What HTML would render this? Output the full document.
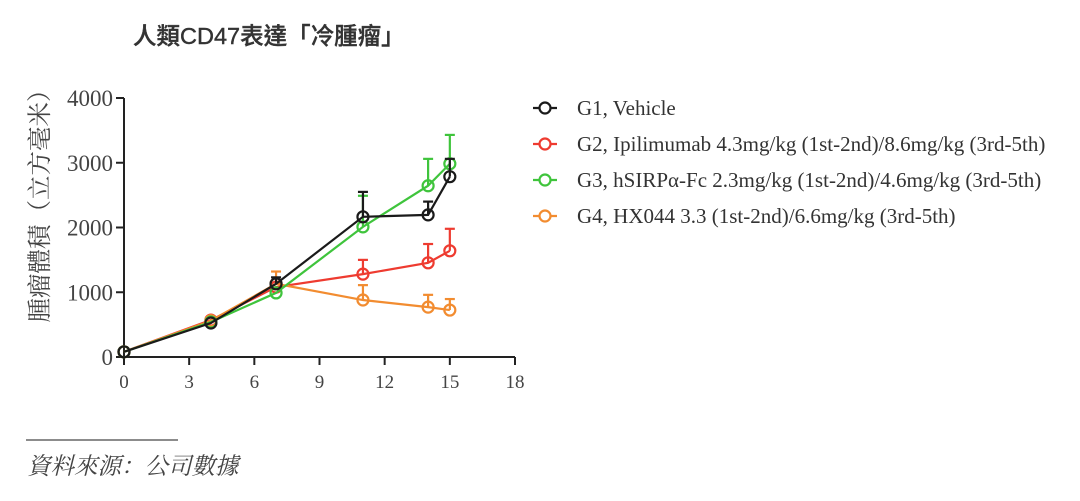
<!DOCTYPE html>
<html><head><meta charset="utf-8"><style>
html,body{margin:0;padding:0;background:#fff;width:1080px;height:501px;overflow:hidden}
svg{display:block}
</style></head><body>
<svg id="chart" width="1080" height="501" xmlns="http://www.w3.org/2000/svg">
<text x="133" y="44" font-family="'Liberation Sans','Noto Sans CJK TC',sans-serif" font-size="23.5" font-weight="500" fill="#333" stroke="#333" stroke-width="0.4">人類CD47表達「冷腫瘤」</text>
<text transform="translate(48,200) rotate(-90)" text-anchor="middle" font-family="'Liberation Serif','Noto Serif CJK SC',serif" font-size="24.5" fill="#444">腫瘤體積（立方毫米）</text>
<g id="axes"></g>
<g id="series"></g>
<g id="legend"></g>
<line x1="26" y1="440" x2="178" y2="440" stroke="#666" stroke-width="1.5"/>
<text x="27" y="474" font-family="'Liberation Serif','Noto Serif CJK SC',serif" font-size="23.5" font-style="italic" fill="#444">資料來源：公司數據</text>
</svg>
<script>
const days = [0, 4, 7, 11, 14, 15];
const g1 = [80, 525, 1130, 2165, 2195, 2785];
const g1Err = [0, 0, 1230, 2550, 2400, 3060];
const g2 = [80, 570, 1080, 1280, 1455, 1640];
const g2Err = [0, 0, 0, 1500, 1745, 1980];
const g3 = [80, 540, 990, 2010, 2645, 2985];
const g3Err = [0, 0, 0, 2490, 3060, 3430];
const g4 = [80, 560, 1130, 880, 770, 725];
const g4Err = [0, 0, 1320, 1110, 960, 895];
const xTicks = [0, 3, 6, 9, 12, 15, 18];
const yTicks = [0, 1000, 2000, 3000, 4000];
const seriesNames = ["G1, Vehicle","G2, Ipilimumab 4.3mg/kg (1st-2nd)/8.6mg/kg (3rd-5th)","G3, hSIRPα-Fc 2.3mg/kg (1st-2nd)/4.6mg/kg (3rd-5th)","G4, HX044 3.3 (1st-2nd)/6.6mg/kg (3rd-5th)"];

const NS="http://www.w3.org/2000/svg";
const X0=124,X1=515,Y0=357,Y1=98;
const xs=v=>X0+(v/18)*(X1-X0);
const ys=v=>Y0-(v/4000)*(Y0-Y1);
function mk(t,a,p){const e=document.createElementNS(NS,t);for(const k in a)e.setAttribute(k,a[k]);p.appendChild(e);return e;}
const axes=document.getElementById('axes');
const serif="'Liberation Serif',serif";
let l=mk('line',{x1:X0,y1:Y1,x2:X0,y2:Y0+8,stroke:'#222','stroke-width':2},axes);


l=mk('line',{x1:X0-1,y1:Y0,x2:X1,y2:Y0,stroke:'#222','stroke-width':2},axes);


yTicks.forEach(v=>{
 mk('line',{x1:X0-8,y1:ys(v),x2:X0,y2:ys(v),stroke:'#222','stroke-width':2},axes);
 const t=mk('text',{x:X0-11,y:ys(v)+8,'text-anchor':'end','font-family':serif,'font-size':23,fill:'#444'},axes);
 t.textContent=v;
 
 
});
xTicks.forEach(v=>{
 mk('line',{x1:xs(v),y1:Y0,x2:xs(v),y2:Y0+8,stroke:'#222','stroke-width':2},axes);
 const t=mk('text',{x:xs(v),y:Y0+31,'text-anchor':'middle','font-family':serif,'font-size':19,fill:'#444'},axes);
 t.textContent=v;
 
 
});
const sg=document.getElementById('series');
const data=[[g2,g2Err,'#ee3b30','g2'],[g4,g4Err,'#f28c30','g4'],[g3,g3Err,'#3fc43c','g3'],[g1,g1Err,'#1a1a1a','g1']];
data.forEach(([vals,errs,c,n])=>{
 const g=mk('g',{},sg);
 
 
 vals.forEach((v,i)=>{
  if(errs[i]>v){
   mk('line',{x1:xs(days[i]),y1:ys(v),x2:xs(days[i]),y2:ys(errs[i]),stroke:c,'stroke-width':2.2},g);
   mk('line',{x1:xs(days[i])-5,y1:ys(errs[i]),x2:xs(days[i])+5,y2:ys(errs[i]),stroke:c,'stroke-width':2.2},g);
  }
 });
 const p=mk('polyline',{points:vals.map((v,i)=>xs(days[i])+','+ys(v)).join(' '),fill:'none',stroke:c,'stroke-width':2.2},g);
 
 
 vals.forEach((v,i)=>{
  const cc=mk('circle',{cx:xs(days[i]),cy:ys(v),r:5.5,fill:'none',stroke:c,'stroke-width':2.2},g);
  
  
 });
});
const lg=document.getElementById('legend');
const lc=['#1a1a1a','#ee3b30','#3fc43c','#f28c30'];
seriesNames.forEach((s,i)=>{
 const y=108+i*36;
 const g=mk('g',{},lg);
 
 
 mk('line',{x1:533,y1:y,x2:557,y2:y,stroke:lc[i],'stroke-width':2.2},g);
 mk('circle',{cx:545,cy:y,r:5.5,fill:'#fff',stroke:lc[i],'stroke-width':2.2},g);
 const t=mk('text',{x:577,y:y+7,'font-family':serif,'font-size':21,fill:'#333'},g);
 t.textContent=s;
});
</script>
</body></html>
